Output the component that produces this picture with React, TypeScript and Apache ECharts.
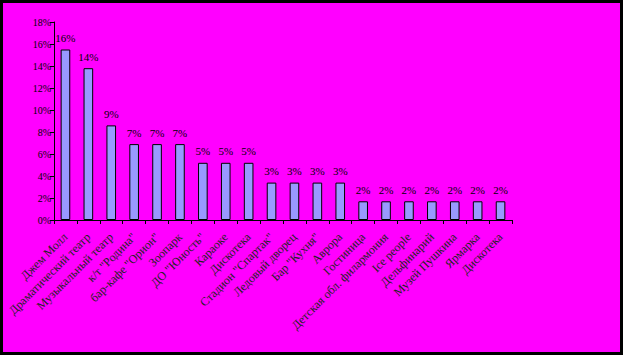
import React, { useEffect, useRef } from "react";
import * as echarts from "echarts";

const categories = [
  "Джем Молл",
  "Драматический театр",
  "Музыкальный театр",
  "к/т \"Родина\"",
  "бар-кафе \"Орион\"",
  "Зоопарк",
  "ДО \"Юность\"",
  "Караоке",
  "Дискотека",
  "Стадион \"Спартак\"",
  "Ледовый дворец",
  "Бар \"Кухня\"",
  "Аврора",
  "Гостиница",
  "Детская обл. филармония",
  "Ice people",
  "Дельфинарий",
  "Музей Пушкина",
  "Ярмарка",
  "Дискотека",
];

const values = [
  15.5, 13.8, 8.6, 6.9, 6.9, 6.9, 5.2, 5.2, 5.2, 3.4, 3.4, 3.4, 3.4, 1.7, 1.7,
  1.7, 1.7, 1.7, 1.7, 1.7,
];

const yTicks = { min: 0, max: 18, interval: 2 };

export default function App() {
  const ref = useRef<HTMLDivElement>(null);
  useEffect(() => {
    document.body.style.margin = "0";
    const chart = echarts.init(ref.current!, null, { renderer: "svg" });
    const font = "'Liberation Serif', 'Times New Roman', serif";
    chart.setOption({
      animation: false,
      backgroundColor: "#FF00FF",
      grid: { left: 51, top: 19, right: 108, bottom: 132, containLabel: false },
      xAxis: {
        type: "category",
        data: categories,
        boundaryGap: true,
        axisLine: { lineStyle: { color: "#000", width: 1 } },
        axisTick: { show: true, length: 4, lineStyle: { color: "#000" } },
        axisLabel: {
          interval: 0,
          rotate: 45,
          margin: 15,
          color: "#222",
          fontFamily: font,
          fontSize: 12,
        },
      },
      yAxis: {
        type: "value",
        min: yTicks.min,
        max: yTicks.max,
        interval: yTicks.interval,
        splitLine: { show: false },
        axisLine: { show: true, lineStyle: { color: "#000", width: 1 } },
        axisTick: { show: true, length: 4, lineStyle: { color: "#000" } },
        axisLabel: {
          formatter: (v: number) => `${v}%`,
          color: "#000",
          fontFamily: font,
          fontSize: 10,
          margin: 3,
        },
      },
      series: [
        {
          type: "bar",
          data: values,
          barWidth: "42%",
          itemStyle: { color: "#9999FF", borderColor: "#000", borderWidth: 1 },
          label: {
            show: true,
            position: "top",
            distance: 6,
            color: "#000",
            fontFamily: font,
            fontSize: 11,
            formatter: (p: any) => `${Math.round(p.value)}%`,
          },
        },
      ],
    });
    return () => chart.dispose();
  }, []);
  return (
    <div
      style={{
        width: 623,
        height: 355,
        boxSizing: "border-box",
        border: "3px solid #000",
        background: "#FF00FF",
      }}
    >
      <div ref={ref} style={{ width: 617, height: 349 }} />
    </div>
  );
}
